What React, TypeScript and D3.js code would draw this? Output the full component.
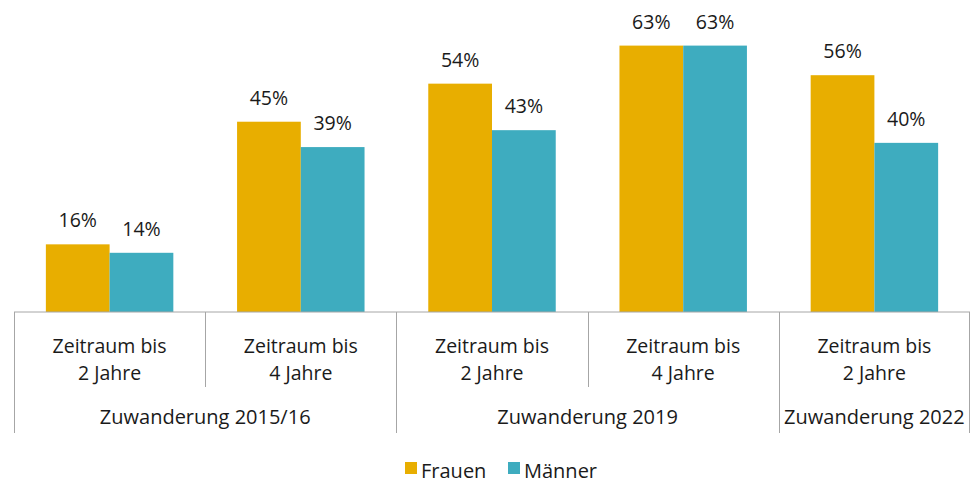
import React from 'react';
import * as d3 from 'd3';

const categories = ['Zeitraum bis|2 Jahre', 'Zeitraum bis|4 Jahre', 'Zeitraum bis|2 Jahre', 'Zeitraum bis|4 Jahre', 'Zeitraum bis|2 Jahre'];
const groups = ['Zuwanderung 2015/16', 'Zuwanderung 2019', 'Zuwanderung 2022'];
const groupSpans = [2, 2, 1];
const seriesNames = ['Frauen', 'Männer'];
const frauen = [16, 45, 54, 63, 56];
const maenner = [14, 39, 43, 63, 40];
const colors = ['#E8AE00', '#3EACBF'];

const W = 973;
const H = 483;
const font = '"Open Sans", "Noto Sans", sans-serif';
const fs = 19.5;

const App = () => {
  const x0 = d3.scaleBand<number>()
    .domain(categories.map((_, i) => i))
    .range([14, 970])
    .paddingInner(0)
    .paddingOuter(0);

  const x1 = d3.scaleBand<number>()
    .domain([0, 1])
    .range([0, x0.bandwidth()])
    .paddingInner(0)
    .paddingOuter(0.5);

  const y = d3.scaleLinear().domain([0, 70]).range([312, 16]);
  const base = y(0);
  const series = [frauen, maenner];
  const line = '#A6A6A6';

  let start = 0;
  const groupBounds = groupSpans.map(n => {
    const a = start;
    start += n;
    return [x0(a)!, x0(start - 1)! + x0.bandwidth()];
  });

  return (
    <svg width={W} height={H} style={{ position: 'absolute', left: 0, top: 0 }} fontFamily={font}>
      {series.map((vals, s) =>
        vals.map((v, i) => (
          <g key={`${s}-${i}`}>
            <rect x={x0(i)! + x1(s)!} y={y(v)} width={x1.bandwidth()} height={base - y(v)} fill={colors[s]} />
            <text x={x0(i)! + x1(s)! + x1.bandwidth() / 2} y={y(v) - 17} textAnchor="middle" fontSize={fs} fill="#1a1a1a">{v}%</text>
          </g>
        ))
      )}
      <line x1={14} x2={970} y1={base} y2={base} stroke={line} strokeWidth={1} />
      {categories.map((c, i) => {
        const left = x0(i)!;
        const cx = left + x0.bandwidth() / 2;
        const [l1, l2] = c.split('|');
        return (
          <g key={i}>
            <text x={cx} y={base + 41} textAnchor="middle" fontSize={fs} fill="#1a1a1a">{l1}</text>
            <text x={cx} y={base + 68} textAnchor="middle" fontSize={fs} fill="#1a1a1a">{l2}</text>
          </g>
        );
      })}
      {categories.map((_, i) => {
        const xx = Math.round(x0(i)!) + 0.5;
        const isGroupStart = groupBounds.some(b => Math.abs(b[0] - x0(i)!) < 1);
        return <line key={i} x1={xx} x2={xx} y1={base} y2={isGroupStart ? 433 : 387} stroke={line} />;
      })}
      <line x1={969.5} x2={969.5} y1={base} y2={433} stroke={line} />
      {groups.map((g, i) => (
        <text key={g} x={(groupBounds[i][0] + groupBounds[i][1]) / 2} y={424} textAnchor="middle" fontSize={20} fill="#1a1a1a">{g}</text>
      ))}
      {seriesNames.map((n, i) => {
        const lx = i === 0 ? 405 : 508;
        return (
          <g key={n}>
            <rect x={lx} y={462} width={12} height={12} fill={colors[i]} />
            <text x={lx + 16} y={478} fontSize={20} fill="#1a1a1a">{n}</text>
          </g>
        );
      })}
    </svg>
  );
};

export default App;
